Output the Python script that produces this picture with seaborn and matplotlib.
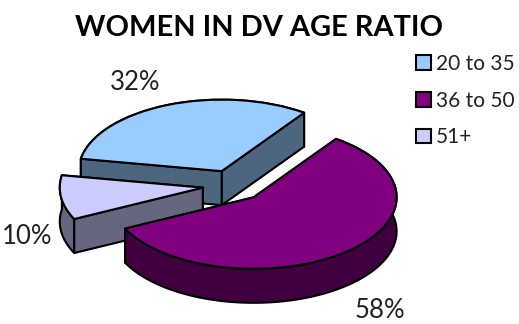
import numpy as np
import matplotlib
matplotlib.use("Agg")
import matplotlib.pyplot as plt
from matplotlib.colors import to_rgb
from matplotlib.patches import Polygon
import seaborn as sns

title = "WOMEN IN DV AGE RATIO"
age_groups = ["20 to 35", "36 to 50", "51+"]
shares = [32, 58, 10]
top_colors = ["#99CCFF", "#800080", "#CCCCFF"]

sns.set_theme(style="white")
plt.rcParams["font.family"] = ["Lato", "DejaVu Sans"]

W, H = 519, 324
fig = plt.figure(figsize=(W / 100, H / 100), dpi=100)
ax = fig.add_axes([0, 0, 1, 1])

palette = sns.color_palette(top_colors)
edge = {"edgecolor": "black", "linewidth": 1.5, "joinstyle": "round"}
wedges, _ = ax.pie(shares, colors=palette, startangle=170, counterclock=False,
                   explode=[0.217] * len(shares), radius=1.0, wedgeprops=edge)

# Map the pie on to the slanted ellipse of the picture
cx, cy, rx, ry = 233.5, 185.5, 143.0, 71.5
ax.set_aspect("auto")
ax.set_xlim(-cx / rx, (W - cx) / rx)
ax.set_ylim(-(H - cy) / ry, cy / ry)
ax.axis("off")
depth = 34 / ry


def walls(w):
    """Faces of the extruded wedge, in data coordinates, back to front."""
    c = np.array(w.center)
    ts = np.radians(np.linspace(w.theta1, w.theta2, 120))
    arc = c + w.r * np.column_stack([np.cos(ts), np.sin(ts)])
    down = np.array([0, -depth])
    faces = [
        np.vstack([arc, (arc + down)[::-1]]),
        np.array([c, arc[0], arc[0] + down, c + down]),
        np.array([c, arc[-1], arc[-1] + down, c + down]),
    ]
    return sorted(faces, key=lambda f: -f[:, 1].mean())


order = sorted(range(len(wedges)), key=lambda i: -wedges[i].center[1])
z = 2
for i in order:
    w = wedges[i]
    side = tuple(0.5 * v for v in to_rgb(top_colors[i]))
    for f in walls(w):
        ax.add_patch(Polygon(f, closed=True, facecolor=side, zorder=z, **edge))
        z += 1
    w.set_zorder(z)
    z += 1

fig.text(259 / W, 1 - 28 / H, title, ha="center", va="center",
         fontsize=20.9, fontweight="bold", color="black")

label_px = [(135, 82), (380, 311), (27, 236)]
for v, (px, py) in zip(shares, label_px):
    fig.text(px / W, 1 - py / H, f"{v}%", ha="center", va="center",
             fontsize=18.5, color="#222222", fontweight="normal")

fig.legend(wedges, age_groups, loc="upper left",
           bbox_to_anchor=(416 / W, 1 - 54 / H), frameon=False,
           fontsize=15, handlelength=0.72, handleheight=0.72,
           handletextpad=0.25, labelspacing=0.8, borderpad=0,
           borderaxespad=0, labelcolor="#222222")

fig.savefig("out.png", dpi=100)
